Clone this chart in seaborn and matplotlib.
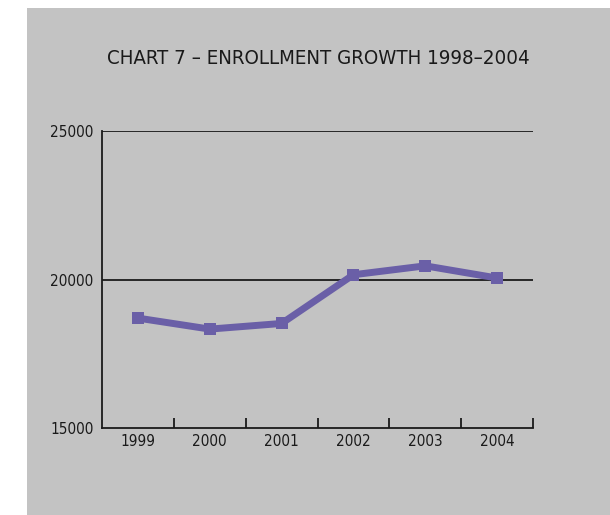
import seaborn as sns
import matplotlib.pyplot as plt
import pandas as pd
from matplotlib.patches import Rectangle

years = ["1999", "2000", "2001", "2002", "2003", "2004"]
enrollment = [18700, 18330, 18520, 20160, 20460, 20050]
y_ticks = [15000, 20000, 25000]
title = "CHART 7 – ENROLLMENT GROWTH 1998–2004"

df = pd.DataFrame({"year": years, "enrollment": enrollment})

sns.set_style("white")
plt.rcParams["font.family"] = ["DejaVu Sans"]
plt.rcParams["font.stretch"] = "condensed"

fig = plt.figure(figsize=(6.1, 5.15), dpi=100)
fig.patch.set_facecolor("white")
# gray panel behind everything
fig.patches.append(Rectangle((27 / 610, 0), 1 - 27 / 610, 1 - 8 / 515,
                             transform=fig.transFigure, facecolor="#c3c3c3",
                             edgecolor="none", zorder=-10))

ax = fig.add_axes([102 / 610, 1 - 428 / 515, 431 / 610, 297 / 515])
ax.set_facecolor("none")

sns.lineplot(data=df, x="year", y="enrollment", ax=ax, color="#6a5fa7",
             linewidth=5, marker="s", markersize=9, markeredgewidth=0, zorder=3)

ax.set_xlim(-0.5, 5.5)
ax.set_ylim(15000, 25000)
ax.set_yticks(y_ticks)
ax.set_yticklabels([str(v) for v in y_ticks])
for v in y_ticks[1:]:
    ax.axhline(v, color="#1a1a1a", lw=1.3, zorder=1)

ax.set_xticks(range(len(years)))
ax.set_xticklabels(years)
ax.set_xticks([i + 0.5 for i in range(len(years))], minor=True)
ax.tick_params(axis="x", which="major", bottom=False, length=0, labelsize=11,
               pad=4, labelcolor="#1a1a1a")
ax.tick_params(axis="x", which="minor", bottom=True, direction="in", length=7,
               width=1.3, color="#1a1a1a")
ax.tick_params(axis="y", left=False, length=0, labelsize=11, pad=6, labelcolor="#1a1a1a")

for s in ["top", "right"]:
    ax.spines[s].set_visible(False)
for s in ["left", "bottom"]:
    ax.spines[s].set_color("#1a1a1a")
    ax.spines[s].set_linewidth(1.3)

ax.set_xlabel("")
ax.set_ylabel("")
fig.text(318 / 610, 1 - 64 / 515, title, ha="center", va="baseline", fontsize=14.7,
         color="#1a1a1a")

fig.savefig("out.png", dpi=100)
